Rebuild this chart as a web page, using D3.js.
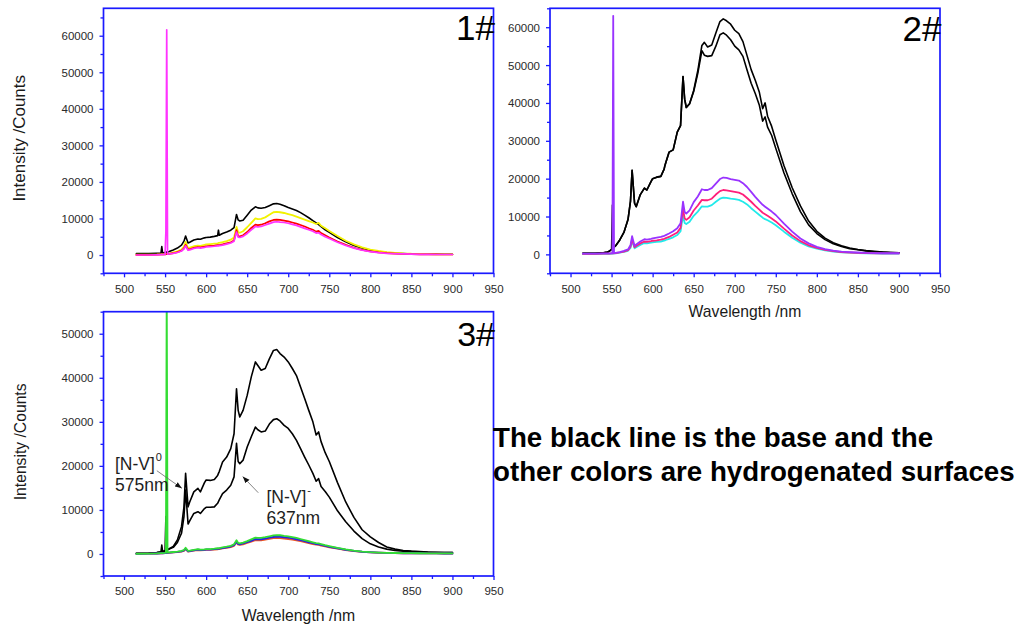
<!DOCTYPE html>
<html>
<head>
<meta charset="utf-8">
<script src="https://cdn.jsdelivr.net/npm/d3@7"></script>
<style>
  html, body { margin: 0; padding: 0; background: #fff; }
  svg { display: block; }
</style>
</head>
<body>
<svg id="chart" width="1022" height="630"></svg>
<script>
// ---- Shared wavelength grid (nm) for every spectrum ----
const wavelengths = [
  515, 530, 540, 545, 546, 547, 550, 551, 552, 553,
  555, 560, 565, 570, 573, 575, 578, 580, 585, 590,
  593, 598, 600, 605, 610, 614, 615, 616, 620, 625,
  630, 634, 637, 639, 641, 645, 650, 655, 660, 663,
  667, 672, 677, 682, 686, 690, 695, 700, 705, 710,
  715, 720, 725, 730, 734, 737, 740, 745, 750, 760,
  770, 780, 790, 800, 810, 820, 830, 840, 850, 860,
  870, 880, 890, 900
];

// ---- Sample 1# (counts) ----
const p1Black = [
  400, 400, 450, 500, 2300, 550, 700, 750, 800, 850,
  950, 1400, 1900, 2700, 3800, 5200, 3300, 3500, 4100, 4400,
  4300, 4700, 4800, 4900, 5100, 5300, 6800, 5400, 5900, 6300,
  6800, 7500, 11100, 9600, 9300, 9500, 10900, 12300, 13200, 12900,
  12800, 13000, 13500, 14000, 14100, 13900, 13500, 13000, 12600, 12200,
  11600, 10900, 10200, 9400, 8800, 8300, 7800, 6900, 6200, 4800,
  3600, 2600, 1900, 1300, 900, 650, 500, 400, 300, 250,
  200, 200, 200, 200
];
const p1Yellow = [
  100, 100, 150, 200, 200, 200, 250, 250, 300, 300,
  400, 700, 1000, 1500, 2300, 3600, 1900, 2000, 2400, 2600,
  2500, 2800, 2900, 3000, 3100, 3200, 3300, 3300, 3500, 3800,
  4200, 4800, 7700, 6200, 6100, 6500, 7600, 8800, 10000, 9800,
  9900, 10300, 11000, 11700, 11800, 11700, 11500, 11200, 10900, 10500,
  10100, 9700, 9300, 8900, 8500, 8800, 8000, 7300, 6600, 5200,
  3900, 2900, 2100, 1500, 1100, 800, 600, 450, 350, 300,
  250, 200, 200, 200
];
const p1Red = [
  50, 50, 100, 150, 150, 150, 200, 200, 250, 250,
  300, 500, 800, 1200, 1800, 2800, 1500, 1600, 2000, 2200,
  2100, 2300, 2400, 2500, 2600, 2700, 2700, 2750, 2900, 3200,
  3500, 4000, 6800, 5200, 5100, 5400, 6300, 7400, 8300, 8200,
  8300, 8700, 9200, 9600, 9700, 9600, 9400, 9200, 8900, 8600,
  8200, 7800, 7300, 6900, 6400, 6600, 6000, 5400, 4800, 3700,
  2800, 2000, 1400, 1000, 700, 500, 400, 300, 250, 200,
  200, 200, 150, 150
];
const p1Magenta = [
  0, 0, 50, 100, 100, 100, 150, 6400, 61600, 250,
  300, 450, 700, 1100, 1700, 2500, 1300, 1400, 1800, 2000,
  1900, 2100, 2200, 2300, 2400, 2500, 2500, 2550, 2700, 3000,
  3300, 3800, 6300, 4900, 4800, 5100, 5900, 6900, 7800, 7700,
  7800, 8200, 8600, 9000, 9100, 9000, 8900, 8700, 8400, 8100,
  7700, 7300, 6900, 6500, 6000, 6100, 5600, 5000, 4500, 3500,
  2600, 1900, 1300, 950, 650, 450, 350, 300, 250, 200,
  200, 150, 150, 150
];

// ---- Sample 2# (counts) ----
const p2BlackA = [
  300, 300, 400, 600, 700, 800, 1300, 13000, 1700, 1900,
  2300, 3800, 5800, 9200, 14000, 22200, 13500, 12600, 15800, 17500,
  17000, 19200, 20000, 20400, 20600, 22500, 23500, 24200, 27000, 27600,
  32300, 34000, 47000, 41000, 38800, 39800, 43300, 48500, 55200, 56000,
  54800, 55300, 58500, 61500, 62200, 61700, 60800, 59200, 58300, 56200,
  52500, 48800, 46000, 42800, 38500, 40000, 36500, 33800, 30200, 23400,
  17600, 12800, 8800, 6100, 4300, 3100, 2300, 1700, 1300, 1000,
  800, 600, 500, 400
];
const p2BlackB = [
  300, 300, 400, 600, 700, 800, 1300, 1400, 1700, 1900,
  2300, 3800, 5800, 9200, 14000, 22200, 13500, 12600, 15800, 17500,
  17000, 19200, 20000, 20400, 20600, 22500, 23500, 24200, 27000, 27600,
  32300, 34000, 47000, 41000, 38800, 39800, 43000, 47800, 53800, 52600,
  52300, 52500, 55000, 58000, 58500, 57900, 56700, 55000, 54000, 52300,
  48700, 45200, 42500, 39400, 35200, 36300, 33600, 31400, 28000, 21500,
  16000, 11300, 7800, 5500, 3900, 2800, 2100, 1500, 1200, 900,
  700, 600, 500, 400
];
const p2Purple = [
  200, 200, 250, 250, 250, 250, 300, 300, 63000, 350,
  400, 600, 900, 1300, 2400, 4800, 2200, 2600, 3400, 4000,
  3900, 4100, 4200, 4400, 4600, 4900, 5000, 5100, 5500, 6100,
  6900, 8200, 13900, 11200, 10800, 11600, 13800, 15300, 17200, 17000,
  17000, 17500, 18700, 19900, 20300, 20200, 19900, 19700, 19500, 18800,
  17800, 16500, 15200, 14000, 13100, 12600, 12100, 11300, 10400, 8100,
  6000, 4200, 2900, 2000, 1400, 1000, 700, 600, 500, 400,
  350, 300, 300, 300
];
const p2Pink = [
  150, 150, 200, 200, 200, 200, 250, 250, 280, 300,
  350, 500, 750, 1100, 2000, 4000, 1900, 2200, 2900, 3400,
  3300, 3500, 3600, 3700, 3900, 4100, 4200, 4300, 4600, 5200,
  5800, 7000, 12000, 9500, 9100, 9800, 11600, 12900, 14400, 14300,
  14300, 14700, 15800, 16700, 17000, 16900, 16700, 16500, 16300, 15800,
  14900, 13900, 12800, 11800, 11000, 10600, 10200, 9500, 8700, 6800,
  5000, 3500, 2400, 1700, 1200, 850, 600, 500, 400, 350,
  300, 250, 250, 250
];
const p2Cyan = [
  100, 100, 150, 150, 150, 150, 200, 200, 220, 250,
  300, 450, 650, 950, 1700, 3500, 1600, 1900, 2500, 3000,
  2900, 3100, 3200, 3300, 3400, 3600, 3700, 3800, 4100, 4500,
  5100, 6100, 10300, 8300, 8000, 8600, 10200, 11300, 12700, 12600,
  12600, 13000, 13900, 14700, 15000, 14900, 14700, 14600, 14400, 13900,
  13200, 12200, 11300, 10400, 9700, 9300, 9000, 8400, 7700, 6000,
  4400, 3100, 2100, 1500, 1050, 750, 550, 450, 350, 300,
  250, 200, 200, 200
];

// ---- Sample 3# (counts) ----
const p3BlackA = [
  150, 200, 300, 500, 2000, 550, 750, 8500, 900, 1000,
  1200, 1700, 3200, 6200, 10700, 18300, 10700, 11800, 14100, 14900,
  14100, 16200, 16800, 16700, 16900, 17800, 18300, 18700, 20900, 22000,
  23900, 27300, 37500, 32600, 31100, 32600, 36000, 40200, 43600, 42800,
  41700, 42100, 44300, 46200, 46400, 45500, 44700, 43600, 42100, 40500,
  37900, 35300, 32600, 30000, 27000, 27700, 25500, 23000, 21000, 16200,
  11800, 8300, 5500, 3900, 2600, 1600, 1100, 800, 650, 550,
  450, 400, 350, 300
];
const p3BlackB = [
  150, 200, 300, 450, 500, 550, 700, 750, 850, 950,
  1100, 1500, 2600, 4700, 8500, 14500, 6800, 7500, 9200, 9600,
  9200, 10300, 10600, 10600, 10700, 11500, 11900, 12300, 13700, 14500,
  15600, 17500, 25100, 21000, 20500, 21300, 24300, 26600, 28800, 28200,
  27700, 27900, 29500, 30500, 30700, 30200, 29200, 28500, 27300, 25800,
  23900, 22000, 20200, 18300, 16500, 17100, 15300, 14200, 12900, 9800,
  7300, 5200, 3500, 2300, 1600, 1100, 800, 650, 550, 450,
  400, 350, 300, 300
];
const p3Red = [
  50, 70, 100, 130, 130, 130, 180, 200, 210, 220,
  260, 340, 430, 550, 720, 1100, 550, 600, 780, 900,
  850, 900, 930, 950, 1000, 1050, 1100, 1100, 1250, 1400,
  1550, 1850, 2600, 2100, 2050, 2200, 2500, 2800, 3150, 3100,
  3100, 3250, 3450, 3600, 3650, 3600, 3500, 3400, 3250, 3100,
  2900, 2700, 2450, 2250, 2100, 2050, 1900, 1700, 1500, 1200,
  900, 650, 480, 360, 280, 230, 190, 170, 150, 140,
  130, 120, 110, 100
];
const p3Blue = [
  50, 80, 120, 150, 150, 150, 200, 220, 240, 250,
  300, 380, 480, 600, 800, 1200, 600, 650, 850, 1000,
  900, 950, 1000, 1000, 1100, 1150, 1200, 1200, 1350, 1500,
  1700, 2000, 2800, 2300, 2200, 2400, 2700, 3000, 3400, 3350,
  3350, 3500, 3700, 3850, 3950, 3900, 3800, 3700, 3550, 3350,
  3150, 2900, 2650, 2450, 2250, 2200, 2050, 1850, 1650, 1300,
  950, 700, 500, 380, 300, 240, 200, 180, 160, 150,
  140, 130, 120, 110
];
const p3Green = [
  50, 100, 150, 200, 200, 200, 250, 300, 62000, 300,
  350, 450, 550, 700, 900, 1400, 700, 750, 950, 1100,
  1000, 1050, 1100, 1100, 1200, 1300, 1300, 1350, 1500, 1650,
  1850, 2200, 3100, 2500, 2400, 2600, 2900, 3300, 3700, 3650,
  3650, 3800, 4000, 4200, 4300, 4250, 4100, 4000, 3850, 3650,
  3400, 3150, 2900, 2650, 2450, 2400, 2250, 2000, 1800, 1400,
  1050, 750, 550, 400, 320, 260, 220, 200, 180, 160,
  150, 140, 130, 120
];

// ---- Axis tick labels ----
const xDomain = [475, 950];
const xLabelTicks = [500, 550, 600, 650, 700, 750, 800, 850, 900, 950];
const xMinorTicks = [475, 525, 575, 625, 675, 725, 775, 825, 875, 925];
const p1YLabels = [0, 10000, 20000, 30000, 40000, 50000, 60000];
const p2YLabels = [0, 10000, 20000, 30000, 40000, 50000, 60000];
const p3YLabels = [0, 10000, 20000, 30000, 40000, 50000];

// ---- Peak annotations on sample 3# (wavelength nm, counts) ----
const nvZero = { label: "[N-V]", sup: "0", line2: "575nm", at: [489, 19000], line2At: [489, 14300],
                 from: [540, 18900], to: [570.5, 14900] };
const nvMinus = { label: "[N-V]", sup: "-", line2: "637nm", at: [673.5, 11500], line2At: [673.5, 6800],
                  from: [663.5, 13900], to: [644.5, 17600] };

// ---- Panel layout and styling ----
const FONT = '"Liberation Sans", Arial, Helvetica, sans-serif';
const FRAME = '#1a1aff';

const panels = [
  {
    tag: "1#", tagSize: 35, tagDy: 31.5,
    box: { x0: 103.5, y0: 8.3, x1: 493.5, y1: 273.3 },
    yDomain: [-5000, 67500], yLabels: p1YLabels,
    yTitle: { size: 17, x: 25, dy: -2.5 }, xTitle: null,
    series: [
      { values: p1Black, color: "#000000", width: 1.6 },
      { values: p1Yellow, color: "#f2f200", width: 1.8 },
      { values: p1Red, color: "#ff0000", width: 1.7 },
      { values: p1Magenta, color: "#ff33ff", width: 1.7 }
    ]
  },
  {
    tag: "2#", tagSize: 35, tagDy: 32.3,
    box: { x0: 550, y0: 8.3, x1: 940, y1: 273.3 },
    yDomain: [-5000, 65000], yLabels: p2YLabels,
    yTitle: null, xTitle: { size: 15.7, dy: 43.8 },
    series: [
      { values: p2BlackA, color: "#000000", width: 1.6 },
      { values: p2BlackB, color: "#000000", width: 1.6 },
      { values: p2Cyan, color: "#22eaea", width: 1.8 },
      { values: p2Pink, color: "#ff1f7a", width: 1.8 },
      { values: p2Purple, color: "#9933ff", width: 1.8 }
    ]
  },
  {
    tag: "3#", tagSize: 34, tagDy: 34.3,
    box: { x0: 103.5, y0: 311.7, x1: 493.5, y1: 576 },
    yDomain: [-5000, 55000], yLabels: p3YLabels,
    yTitle: { size: 15.7, x: 26, dy: -2 }, xTitle: { size: 15.8, dy: 44.5 },
    series: [
      { values: p3BlackA, color: "#000000", width: 1.6 },
      { values: p3BlackB, color: "#000000", width: 1.6 },
      { values: p3Red, color: "#ee5522", width: 1.8 },
      { values: p3Blue, color: "#2323e6", width: 1.9 },
      { values: p3Green, color: "#33dd33", width: 1.8 }
    ],
    notes: [nvZero, nvMinus]
  }
];

const svg = d3.select("#chart");
const defs = svg.append("defs");

defs.append("marker")
  .attr("id", "arrowHead")
  .attr("viewBox", "0 0 10 10")
  .attr("refX", 10).attr("refY", 5)
  .attr("markerWidth", 7).attr("markerHeight", 7)
  .attr("markerUnits", "userSpaceOnUse")
  .attr("orient", "auto")
  .append("path")
  .attr("d", "M0,1.2L10,5L0,8.8Z")
  .attr("fill", "#111");

panels.forEach((p, i) => {
  const { x0, y0, x1, y1 } = p.box;
  const x = d3.scaleLinear().domain(xDomain).range([x0, x1]);
  const y = d3.scaleLinear().domain(p.yDomain).range([y1, y0]);
  const g = svg.append("g").attr("class", "panel");

  // clip region for the spectra
  const clipId = "plotClip" + i;
  defs.append("clipPath").attr("id", clipId)
    .append("rect")
    .attr("x", x0).attr("y", y0)
    .attr("width", x1 - x0).attr("height", y1 - y0);

  const line = d3.line()
    .x((d, j) => x(wavelengths[j]))
    .y(d => y(d));

  g.append("g")
    .attr("clip-path", `url(#${clipId})`)
    .selectAll("path")
    .data(p.series)
    .join("path")
    .attr("d", s => line(s.values))
    .attr("fill", "none")
    .attr("stroke", s => s.color)
    .attr("stroke-width", s => s.width)
    .attr("stroke-linejoin", "round")
    .attr("stroke-linecap", "round");

  // x axis: labelled major ticks + minor ticks
  const xMajor = g.append("g").attr("transform", `translate(0,${y1})`)
    .call(d3.axisBottom(x).tickValues(xLabelTicks).tickSize(4).tickPadding(7.3).tickFormat(d3.format("d")));
  const xMinor = g.append("g").attr("transform", `translate(0,${y1})`)
    .call(d3.axisBottom(x).tickValues(xMinorTicks).tickSize(3).tickFormat(""));

  // y axis
  const [ymin, ymax] = p.yDomain;
  const yMinorVals = d3.range(ymin, ymax + 1, 5000).filter(v => !p.yLabels.includes(v));
  const yMajor = g.append("g").attr("transform", `translate(${x0},0)`)
    .call(d3.axisLeft(y).tickValues(p.yLabels).tickSize(4).tickPadding(6).tickFormat(d3.format("d")));
  const yMinor = g.append("g").attr("transform", `translate(${x0},0)`)
    .call(d3.axisLeft(y).tickValues(yMinorVals).tickSize(3).tickFormat(""));

  [xMajor, xMinor, yMajor, yMinor].forEach(a => {
    a.select(".domain").remove();
    a.selectAll(".tick line").attr("stroke", FRAME).attr("stroke-width", 1.3);
    a.selectAll(".tick text")
      .attr("fill", "#2a2a2a")
      .attr("font-family", FONT)
      .attr("font-size", 11.5);
  });
  yMajor.selectAll(".tick text").attr("dy", "0.34em");

  // frame
  g.append("rect")
    .attr("x", x0).attr("y", y0)
    .attr("width", x1 - x0).attr("height", y1 - y0)
    .attr("fill", "none")
    .attr("stroke", FRAME)
    .attr("stroke-width", 1.7);

  // panel tag
  g.append("text")
    .attr("x", x1 + 1.5).attr("y", y0 + p.tagDy)
    .attr("text-anchor", "end")
    .attr("font-family", FONT)
    .attr("font-size", p.tagSize)
    .attr("fill", "#000")
    .text(p.tag);

  if (p.yTitle) {
    const cy = (y0 + y1) / 2 + p.yTitle.dy;
    g.append("text")
      .attr("transform", `translate(${p.yTitle.x},${cy}) rotate(-90)`)
      .attr("text-anchor", "middle")
      .attr("font-family", FONT)
      .attr("font-size", p.yTitle.size)
      .attr("fill", "#1a1a1a")
      .text("Intensity /Counts");
  }
  if (p.xTitle) {
    g.append("text")
      .attr("x", (x0 + x1) / 2).attr("y", y1 + p.xTitle.dy)
      .attr("text-anchor", "middle")
      .attr("font-family", FONT)
      .attr("font-size", p.xTitle.size)
      .attr("fill", "#1a1a1a")
      .text("Wavelength /nm");
  }

  (p.notes || []).forEach(n => {
    g.append("line")
      .attr("x1", x(n.from[0])).attr("y1", y(n.from[1]))
      .attr("x2", x(n.to[0])).attr("y2", y(n.to[1]))
      .attr("stroke", "#666")
      .attr("stroke-width", 0.8)
      .attr("marker-end", "url(#arrowHead)");
    const t = g.append("text")
      .attr("x", x(n.at[0])).attr("y", y(n.at[1]))
      .attr("font-family", FONT)
      .attr("font-size", 17.5)
      .attr("fill", "#1e1e1e");
    t.append("tspan").text(n.label);
    t.append("tspan").attr("dx", 1).attr("dy", -9).attr("font-size", 11).text(n.sup);
    g.append("text")
      .attr("x", x(n.line2At[0])).attr("y", y(n.line2At[1]))
      .attr("font-family", FONT)
      .attr("font-size", 17.5)
      .attr("fill", "#1e1e1e")
      .text(n.line2);
  });
});

// explanatory caption
const caption = svg.append("text")
  .attr("font-family", FONT)
  .attr("font-weight", "bold")
  .attr("font-size", 27.7)
  .attr("fill", "#000");
caption.append("tspan").attr("x", 493).attr("y", 446.5).text("The black line is the base and the");
caption.append("tspan").attr("x", 493).attr("y", 481).text("other colors are hydrogenated surfaces");
</script>
</body>
</html>
